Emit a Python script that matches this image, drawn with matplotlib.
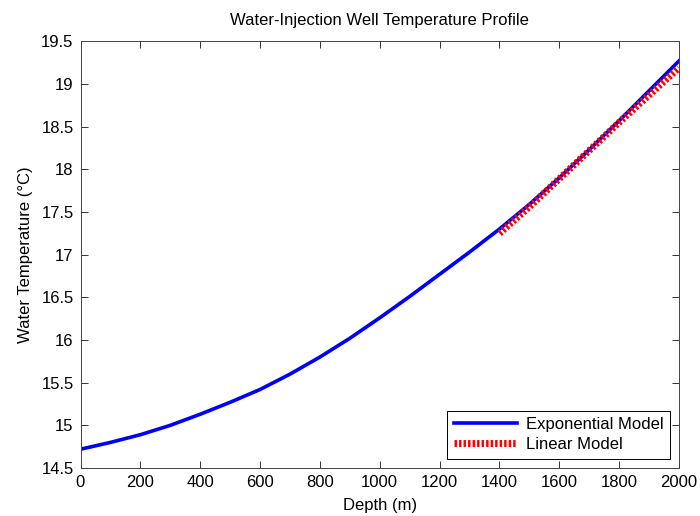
import matplotlib
matplotlib.use("Agg")
import matplotlib.pyplot as plt
import numpy as np

plt.rcParams['font.family'] = ['Liberation Sans', 'DejaVu Sans']

# exponential model
exp_depth = [0, 100, 200, 300, 400, 500, 600, 700, 800, 900, 1000,
             1100, 1200, 1300, 1400, 1500, 1600, 1700, 1800, 1900, 2000]
exp_temp = [14.72, 14.80, 14.89, 15.00, 15.13, 15.27, 15.42, 15.60, 15.80, 16.02, 16.26,
            16.51, 16.77, 17.03, 17.30, 17.59, 17.90, 18.23, 18.57, 18.92, 19.27]

# linear model (lower section only)
lin_depth = [1400, 1500, 1600, 1700, 1800, 1900, 2000]
lin_temp = [17.25, 17.56, 17.89, 18.22, 18.55, 18.87, 19.19]

x_ticks = np.arange(0, 2001, 200)
y_ticks = np.arange(14.5, 19.51, 0.5)

fig = plt.figure(figsize=(7.0, 5.16), dpi=100)
ax = fig.add_axes([0.115, 0.093, 0.855, 0.827])

ax.plot(exp_depth, exp_temp, color='#0000ff', lw=2.6, label='Exponential Model')
ax.plot(lin_depth, lin_temp, color='#ff0000', lw=5.0, dashes=(0.35, 0.3),
        dash_capstyle='butt', label='Linear Model')

ax.set_xlim(0, 2000)
ax.set_ylim(14.5, 19.5)
ax.set_xticks(x_ticks)
ax.set_yticks(y_ticks)
ax.set_yticklabels(['%g' % v for v in y_ticks])
ax.tick_params(direction='in', top=True, right=True, length=5, width=0.7,
               labelsize=12, colors='#333333', labelcolor='black', pad=5)
for s in ax.spines.values():
    s.set_color('#444444')
    s.set_linewidth(0.7)

ax.set_xlabel('Depth (m)', fontsize=12, labelpad=6)
ax.set_ylabel('Water Temperature (°C)', fontsize=12, labelpad=6)
ax.set_title('Water-Injection Well Temperature Profile', fontsize=12, pad=12)

leg = ax.legend(loc='lower right', fontsize=12, handlelength=3.8, fancybox=False,
                framealpha=1, edgecolor='black', borderpad=0.4, labelspacing=0.3,
                borderaxespad=0.55, handletextpad=0.5)
leg.get_frame().set_linewidth(0.7)

fig.savefig('out.png', dpi=100)
